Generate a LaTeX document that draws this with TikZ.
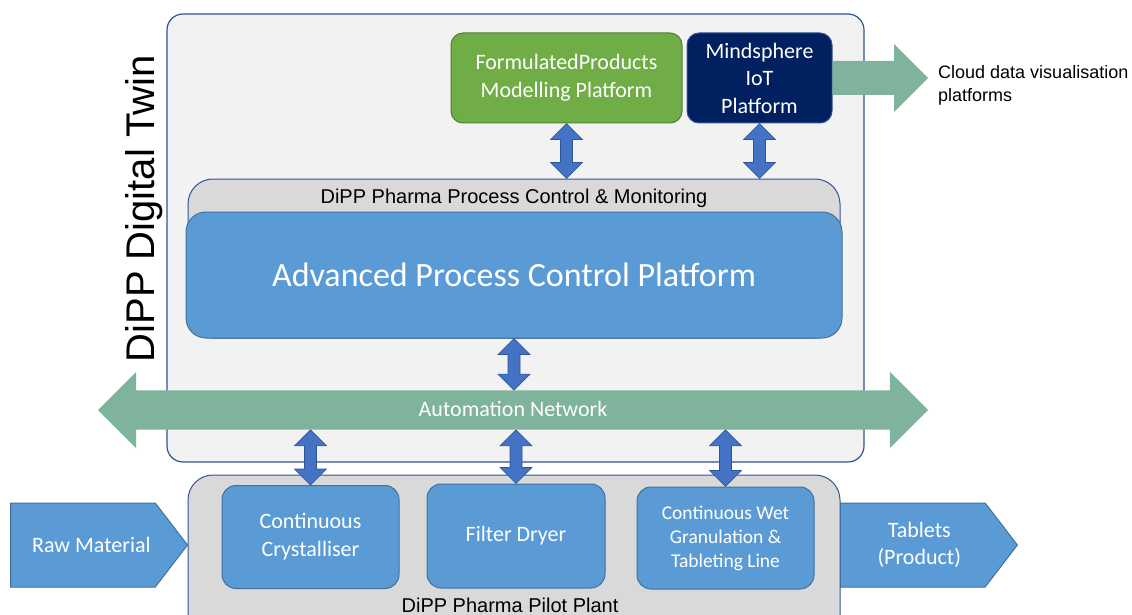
\documentclass[tikz,border=0pt]{standalone}
\usepackage{fontspec}
\setmainfont{Carlito}
\newfontfamily\arialfont{Liberation Sans}
\usetikzlibrary{calc}
\usetikzlibrary{shapes.arrows,shapes.symbols}

\definecolor{twinbg}{HTML}{F2F2F2}
\definecolor{frameblue}{HTML}{2F5597}
\definecolor{panelgray}{HTML}{D9D9D9}
\definecolor{boxblue}{HTML}{5B9BD5}
\definecolor{boxedge}{HTML}{41719C}
\definecolor{fpgreen}{HTML}{70AD47}
\definecolor{fpedge}{HTML}{507E32}
\definecolor{iotnavy}{HTML}{002060}
\definecolor{netgreen}{HTML}{7FB39B}
\definecolor{linkblue}{HTML}{4472C4}

\tikzset{
  panel/.style={draw=frameblue,fill=panelgray,line width=1pt,rounded corners=25pt},
  unit/.style={draw=boxedge,fill=boxblue,text=white,line width=1pt,rounded corners=14pt,
    align=center,font=\fontsize{22}{28}\selectfont},
  platform/.style={line width=1pt,rounded corners=12pt,text=white,align=center,
    font=\fontsize{22}{27.5}\selectfont},
  flow/.style={signal,signal to=east,signal pointer angle=105,draw=boxedge,fill=boxblue,
    line width=1pt,minimum height=84pt},
  flowtxt/.style={text=white,align=center,font=\fontsize{22}{27}\selectfont},
  sanslbl/.style={font=\arialfont\fontsize{20}{24}\selectfont}
}

% vertical two-headed block arrow between two points
\newcommand{\vlink}[2]{%
  \filldraw[fill=linkblue,draw=frameblue,line width=0.6pt] let \p1=(#1), \p2=(#2) in
    (\x1,\y1) -- (\x1+16pt,\y1-16pt) -- (\x1+6pt,\y1-16pt) -- (\x1+6pt,\y2+16pt)
    -- (\x1+16pt,\y2+16pt) -- (\x1,\y2) -- (\x1-16pt,\y2+16pt) -- (\x1-6pt,\y2+16pt)
    -- (\x1-6pt,\y1-16pt) -- (\x1-16pt,\y1-16pt) -- cycle;}

\begin{document}
\begin{tikzpicture}[x=1pt,y=-1pt]
  \useasboundingbox (0,0) rectangle (1132,615);

  % digital twin frame
  \node[draw=frameblue,fill=twinbg,line width=1.2pt,rounded corners=16pt,
    minimum width=697pt,minimum height=448pt] (twin) at (515.5,238) {};
  \node[rotate=90,font=\arialfont\fontsize{40}{48}\selectfont] (twinlbl) at (144,209) {DiPP Digital Twin};

  \node[platform,draw=fpedge,fill=fpgreen,minimum width=231pt,minimum height=90pt] (fp) at (566.5,78)
    {FormulatedProducts\\Modelling Platform};
  \node[platform,draw=frameblue,fill=iotnavy,minimum width=145pt,minimum height=90pt] (iot) at (759.5,78)
    {Mindsphere\\IoT\\Platform};

  \node[anchor=west,inner xsep=10pt,align=left,font=\arialfont\fontsize{18}{23}\selectfont] (cloud)
    at (928,85) {Cloud data visualisation\\platforms};
  \fill[netgreen] let \p1=(iot.east), \p2=(cloud.west) in
    (\x1,\y1+17pt) -- (\x2-34pt,\y1+17pt) -- (\x2-34pt,\y1+34pt) -- (\x2,\y1)
    -- (\x2-34pt,\y1-34pt) -- (\x2-34pt,\y1-17pt) -- (\x1,\y1-17pt) -- cycle;

  % process control
  \node[panel,minimum width=652pt,minimum height=159pt] (pcm) at (514,258.5) {};
  \node[sanslbl] (pcmlbl) at (514,198) {DiPP Pharma Process Control \& Monitoring};
  \node[draw=boxedge,fill=boxblue,line width=1pt,rounded corners=20pt,text=white,
    minimum width=656pt,minimum height=126pt,font=\fontsize{34}{40}\selectfont] (apc) at (514,275)
    {Advanced Process Control Platform};

  \vlink{fp.south}{fp.south |- pcm.north}
  \vlink{iot.south}{iot.south |- pcm.north}

  % automation network
  \node[double arrow,double arrow head extend=18.5pt,fill=netgreen,text=white,
    minimum height=830pt,inner xsep=0pt,inner ysep=10.5pt,text height=15pt,text depth=3pt,
    font=\fontsize{22}{26}\selectfont] (net) at (513,410) {Automation Network};

  \vlink{apc.south}{apc.south |- net.north}

  % pilot plant
  \node[flow,minimum width=196pt,anchor=east,label={[flowtxt,xshift=16pt]center:Tablets\\(Product)}]
    (tab) at (1018,545) {};
  \node[panel,minimum width=652pt,minimum height=165pt] (plant) at (514,557.5) {};
  \node[unit,minimum width=177pt,minimum height=103pt] (crys) at (310.5,537) {Continuous\\Crystalliser};
  \node[unit,minimum width=178pt,minimum height=104pt] (dryer) at (516,536) {Filter Dryer};
  \node[unit,minimum width=177pt,minimum height=102pt,font=\fontsize{19.5}{24}\selectfont] (wet)
    at (725.5,538) {Continuous Wet\\Granulation \&\\Tableting Line};
  \node[flow,minimum width=177pt,anchor=west,label={[flowtxt,xshift=8.5pt]center:Raw Material}]
    (raw) at (10,545) {};
  \node[sanslbl,anchor=base] (plantlbl) at (510,612) {DiPP Pharma Pilot Plant};

  \vlink{crys.north |- net.south}{crys.north}
  \vlink{dryer.north |- net.south}{dryer.north}
  \vlink{wet.north |- net.south}{wet.north}
\end{tikzpicture}
\end{document}
